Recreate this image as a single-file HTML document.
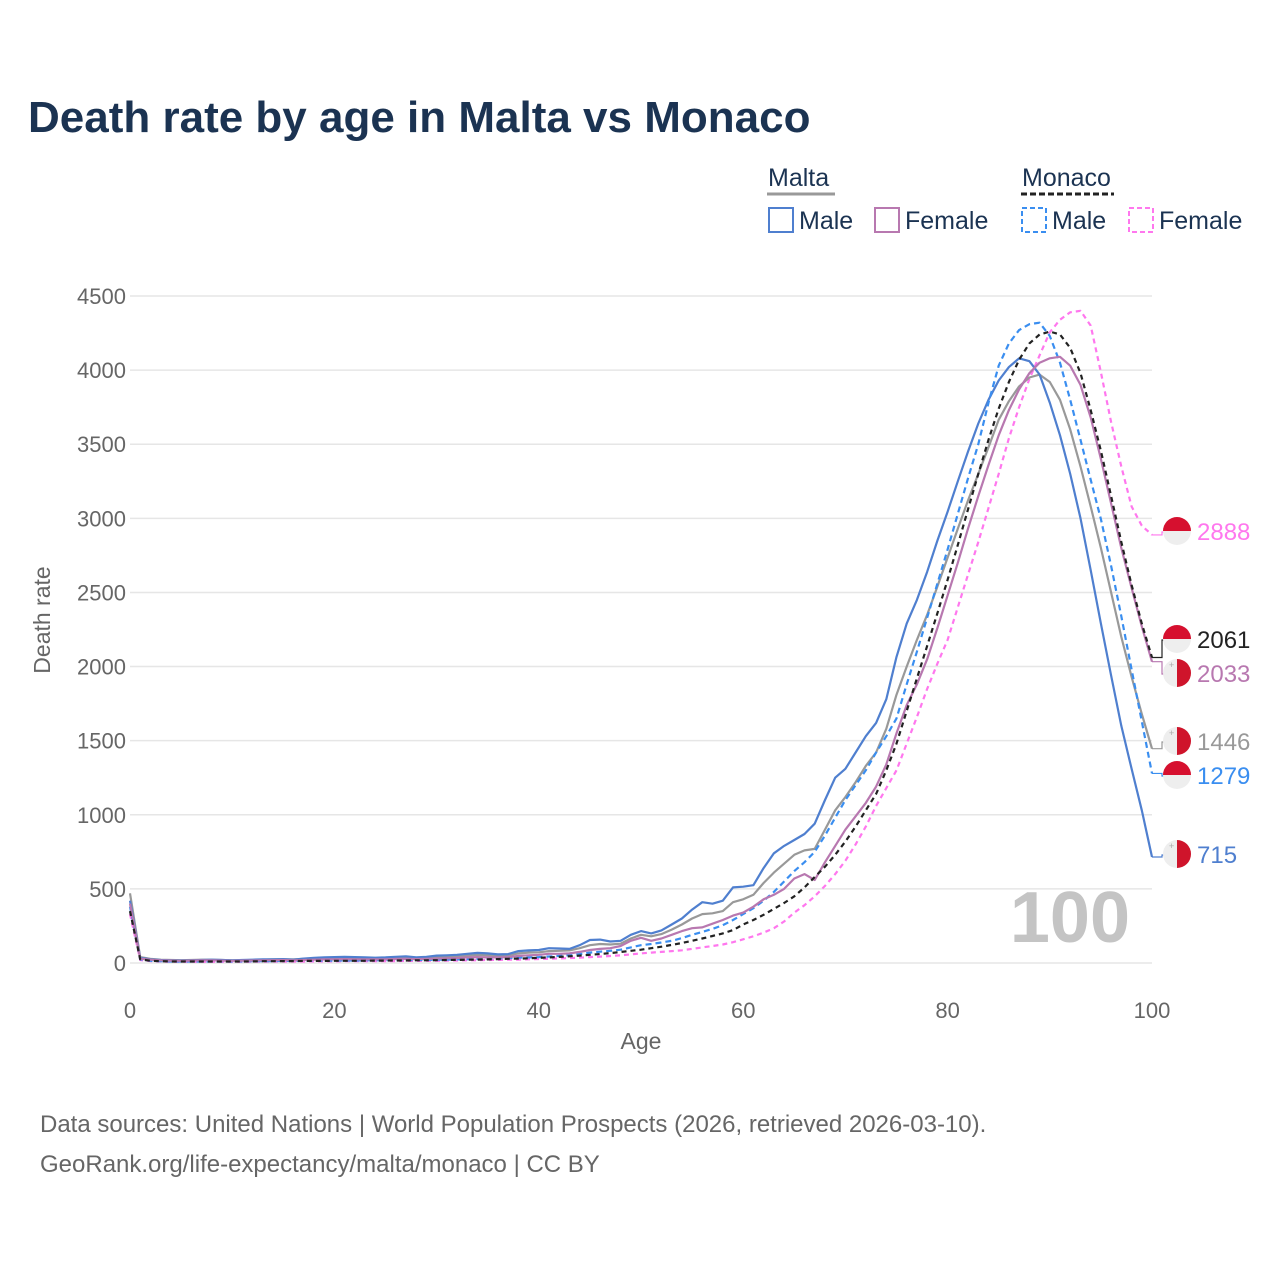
<!DOCTYPE html>
<html><head><meta charset="utf-8"><style>
body{margin:0;background:#fff;font-family:"Liberation Sans",sans-serif}
#wrap{position:relative;width:1280px;height:1280px;overflow:hidden}
</style></head><body>
<div id="wrap">
<svg id="svg" width="1280" height="1280" xmlns="http://www.w3.org/2000/svg">
<text x="28" y="132" font-size="44" font-weight="bold" fill="#1b3352">Death rate by age in Malta vs Monaco</text>
<g font-size="25">
<text x="768" y="186" fill="#1b3352">Malta</text>
<line x1="767" y1="194" x2="835" y2="194" stroke="#999" stroke-width="3"/>
<text x="1022" y="186" fill="#1b3352">Monaco</text>
<line x1="1021" y1="194" x2="1114" y2="194" stroke="#222" stroke-width="3" stroke-dasharray="6,3"/>
<g><rect x="769" y="208" width="24" height="24" fill="none" stroke="#4f7fcf" stroke-width="2"/><text x="799" y="229" fill="#1b3352">Male</text></g>
<g><rect x="875" y="208" width="24" height="24" fill="none" stroke="#b878b0" stroke-width="2"/><text x="905" y="229" fill="#1b3352">Female</text></g>
<g><rect x="1022" y="208" width="24" height="24" fill="none" stroke="#3a8ef0" stroke-width="2" stroke-dasharray="5,3"/><text x="1052" y="229" fill="#1b3352">Male</text></g>
<g><rect x="1129" y="208" width="24" height="24" fill="none" stroke="#ff77ee" stroke-width="2" stroke-dasharray="5,3"/><text x="1159" y="229" fill="#1b3352">Female</text></g>
</g>
<g id="grid"></g>
<text x="1130" y="942" font-size="72" font-weight="bold" fill="#c4c4c4" text-anchor="end">100</text>
<g id="series"></g>
<g id="labels"></g>
<text x="641" y="1049" font-size="23" fill="#666" text-anchor="middle">Age</text>
<text transform="translate(50,620) rotate(-90)" font-size="23" fill="#666" text-anchor="middle">Death rate</text>
<text x="40" y="1132" font-size="24" fill="#666">Data sources: United Nations | World Population Prospects (2026, retrieved 2026-03-10).</text>
<text x="40" y="1172" font-size="24" fill="#666">GeoRank.org/life-expectancy/malta/monaco | CC BY</text>
</svg>
</div>
<script>
const yTicks=[0,500,1000,1500,2000,2500,3000,3500,4000,4500];
const xTicks=[0,20,40,60,80,100];
const maltaMale=[420,35,25,20,18,17,18,20,22,20,18,20,22,24,25,26,22,30,35,38,40,42,40,38,36,38,42,45,38,42,50,52,55,62,68,65,58,60,80,85,88,100,98,95,120,155,158,145,150,190,215,200,220,260,300,360,410,400,420,510,515,525,640,740,790,830,870,940,1100,1250,1310,1420,1530,1620,1780,2065,2290,2450,2640,2850,3045,3250,3450,3640,3800,3930,4020,4080,4060,3970,3780,3560,3300,3000,2650,2290,1940,1600,1310,1030,715];
const maltaTotal=[470,40,28,22,20,19,20,22,22,20,18,19,20,22,24,25,24,28,30,32,33,35,34,32,30,32,35,38,33,35,40,42,45,50,55,52,50,52,65,70,72,80,82,85,100,120,128,125,130,165,190,180,195,225,260,300,330,335,350,410,430,460,540,610,670,730,760,770,900,1030,1120,1220,1330,1420,1580,1810,2000,2180,2350,2540,2735,2930,3120,3300,3480,3665,3790,3890,3950,3970,3920,3800,3600,3350,3080,2800,2500,2200,1930,1680,1446];
const maltaFemale=[400,30,22,18,16,15,16,18,18,16,15,16,17,18,19,20,18,20,22,24,25,26,25,24,24,25,27,28,26,28,30,32,34,38,40,38,38,40,48,52,55,62,62,65,75,88,95,100,115,150,170,150,165,190,215,235,240,265,290,320,340,380,430,460,500,570,600,560,680,790,900,990,1080,1190,1340,1550,1740,1880,2050,2260,2480,2700,2930,3150,3360,3560,3730,3870,3980,4050,4080,4090,4030,3900,3680,3400,3100,2800,2530,2270,2033];
const monacoTotal=[350,25,15,12,10,10,10,10,10,10,10,10,11,12,12,13,13,14,14,14,15,15,15,15,16,16,17,17,18,18,19,20,21,22,23,24,26,28,30,32,35,38,41,45,50,55,61,67,74,82,90,100,110,122,135,150,165,182,200,222,260,290,325,365,405,450,510,580,650,730,820,920,1030,1140,1300,1480,1700,1920,2140,2360,2585,2820,3060,3300,3530,3740,3920,4070,4180,4240,4260,4240,4150,3980,3730,3455,3150,2840,2550,2290,2061];
const monacoMale=[380,25,15,12,10,10,10,10,10,10,10,11,12,12,13,14,14,15,15,16,16,17,17,18,18,19,19,20,20,21,22,23,24,25,27,29,31,33,36,38,40,44,48,53,60,70,76,82,90,105,120,128,138,150,168,190,210,230,255,290,330,370,420,480,550,620,680,750,860,980,1100,1200,1300,1420,1530,1650,1880,2100,2330,2560,2790,3030,3270,3500,3780,4030,4180,4270,4310,4320,4230,4050,3800,3530,3260,2995,2680,2340,1980,1630,1279];
const monacoFemale=[330,20,12,10,8,8,8,8,8,8,8,8,9,9,10,10,10,10,11,11,11,12,12,12,13,13,13,14,14,15,15,16,17,18,19,20,21,22,23,25,27,29,31,33,36,40,43,47,52,58,65,70,75,80,86,95,105,115,125,140,160,180,205,235,280,340,390,450,520,600,690,800,920,1060,1180,1300,1480,1660,1850,2020,2180,2400,2620,2840,3070,3300,3540,3750,3940,4100,4255,4340,4390,4400,4300,3985,3650,3350,3080,2950,2888];
const endLabels=["2888","2061","2033","1446","1279","715"];
const NS="http://www.w3.org/2000/svg";
const X0=130,X1=1152,Y0=963,Y4500=296;
function x(a){return X0+(X1-X0)*a/100;}
function y(v){return Y0-(Y0-Y4500)*v/4500;}
function mk(t,attrs,parent){const e=document.createElementNS(NS,t);for(const k in attrs)e.setAttribute(k,attrs[k]);parent.appendChild(e);return e;}
const grid=document.getElementById('grid');
yTicks.forEach(v=>{
 const l=mk('line',{x1:X0,x2:X1,y1:y(v),y2:y(v),stroke:'#e6e6e6','stroke-width':1.5},grid);
 
 
 const t=mk('text',{x:126,y:y(v)+8,'font-size':22,fill:'#666','text-anchor':'end'},grid);
 t.textContent=v;
 
 
});
xTicks.forEach(a=>{
 const t=mk('text',{x:x(a),y:1018,'font-size':22,fill:'#666','text-anchor':'middle'},grid);
 t.textContent=a;
 
 
});
const ser=document.getElementById('series');
const defs=[
 [monacoFemale,'#ff77ee','5,4','monaco-female-line'],
 [maltaTotal,'#999999',null,'malta-total-line'],
 [maltaMale,'#4f7fcf',null,'malta-male-line'],
 [monacoMale,'#3a8ef0','6,4','monaco-male-line'],
 [maltaFemale,'#b878b0',null,'malta-female-line'],
 [monacoTotal,'#222222','5,4','monaco-total-line']
];
defs.forEach(d=>{
 const pts=d[0].map((v,i)=>x(i).toFixed(1)+','+y(v).toFixed(1)).join(' ');
 const a={points:pts,fill:'none',stroke:d[1],'stroke-width':2.2,'stroke-linejoin':'round'};
 if(d[2])a['stroke-dasharray']=d[2];
 const p=mk('polyline',a,ser);
 
 
});
const lab=document.getElementById('labels');
const lbl=[
 [monacoFemale,'#ff77ee',532,'monaco',0],
 [monacoTotal,'#222',640,'monaco',1],
 [maltaFemale,'#b878b0',674,'malta',2],
 [maltaTotal,'#999',742,'malta',3],
 [monacoMale,'#3a8ef0',776,'monaco',4],
 [maltaMale,'#4f7fcf',855,'malta',5]
];
lbl.forEach(d=>{
 const ey=y(d[0][100]);
 mk('polyline',{points:`${X1},${ey} ${X1+10},${ey} ${X1+10},${d[2]} ${X1+14},${d[2]}`,fill:'none',stroke:d[1],'stroke-width':1.2},lab);
 const g=mk('g',{},lab);
 
 
 const cx=1177,cy=d[2]-1,r=14;
 mk('circle',{cx:cx,cy:cy,r:r,fill:'#eeeeee'},g);
 if(d[3]==='monaco'){mk('path',{d:`M${cx-r},${cy} A${r},${r} 0 0 1 ${cx+r},${cy} Z`,fill:'#d6102f'},g);}
 else{mk('path',{d:`M${cx},${cy-r} A${r},${r} 0 0 1 ${cx},${cy+r} Z`,fill:'#cf142b'},g);
  mk('text',{x:cx-8,y:cy-5,'font-size':9,fill:'#aaa'},g).textContent='+';}
 const t=mk('text',{x:1197,y:d[2]+8,'font-size':24,fill:d[1]},lab);
 t.textContent=endLabels[d[4]];
 
 
});
</script>
</body></html>
